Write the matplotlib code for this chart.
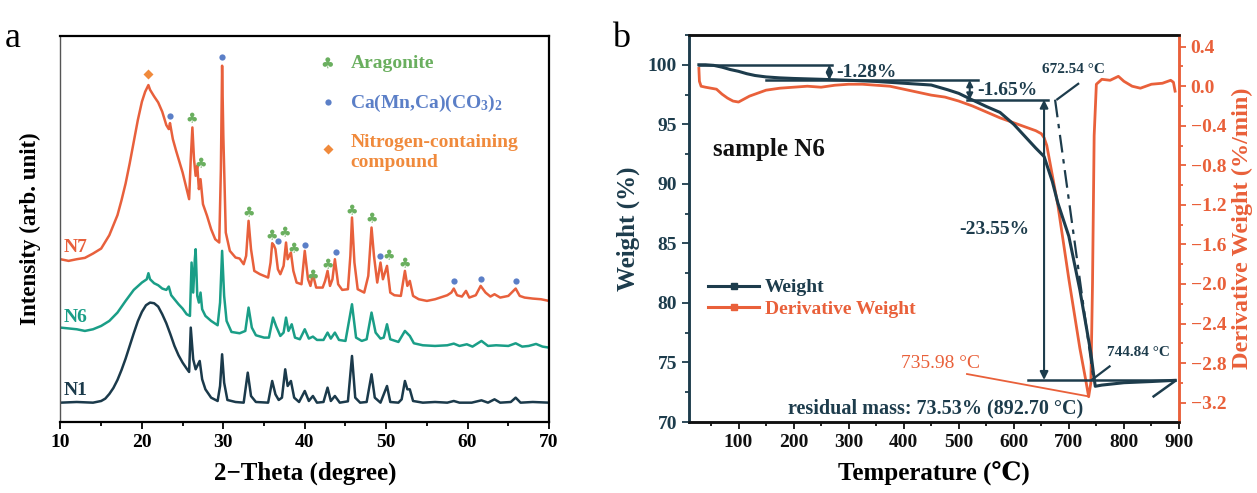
import matplotlib
matplotlib.use("Agg")
import matplotlib.pyplot as plt
from matplotlib.lines import Line2D
from matplotlib.ticker import MultipleLocator

plt.rcParams['font.family'] = ['Liberation Serif', 'DejaVu Serif', 'DejaVu Sans']
plt.rcParams['font.weight'] = 'bold'
plt.rcParams['axes.labelweight'] = 'bold'
plt.rcParams['mathtext.default'] = 'regular'

# ---------------- panel a: XRD (arbitrary units) ----------------
n1_x = [10, 12, 14, 15, 15.5, 16, 16.5, 17, 17.5, 18, 18.5, 19, 19.5, 20, 20.5, 21, 21.5, 22, 22.5, 23,
        23.5, 24, 24.5, 25, 25.5, 25.8, 26.0, 26.3, 26.6, 26.8, 27.1, 27.4, 27.8, 28.5, 29.3, 29.6, 29.85, 30.1, 30.5, 31.5,
        32.5, 33.0, 33.4, 34, 35.5, 36.0, 36.4, 36.8, 37.2, 37.6, 37.9, 38.3, 38.7, 39.3, 40.0, 40.5, 41.0, 41.5, 42.3, 42.8,
        43.2, 43.7, 44.3, 45.3, 45.8, 46.2, 46.8, 47.6, 48.2, 48.6, 49.3, 50.1, 50.5, 51.5, 51.9, 52.3, 52.6, 52.9, 53.3, 54.5,
        56, 57.5, 58.3, 59, 60.5, 61.7, 62.5, 63.3, 64, 65.3, 65.9, 66.5, 68, 70]
n1_y = [58, 60, 58, 63, 70, 84, 102, 126, 156, 190, 228, 266, 302, 330, 350, 358, 356, 346, 323, 296,
        263, 228, 200, 178, 160, 150, 283, 188, 158, 168, 183, 128, 98, 73, 63, 108, 203, 118, 66, 60,
        58, 148, 78, 60, 58, 123, 83, 66, 73, 158, 108, 123, 73, 60, 93, 63, 78, 58, 60, 103,
        63, 78, 58, 62, 198, 73, 58, 60, 143, 73, 58, 108, 60, 58, 68, 123, 98, 98, 63, 58,
        60, 58, 63, 58, 58, 65, 58, 68, 58, 60, 73, 58, 60, 58]

n6_x = [10, 12, 13, 14, 15, 16, 17, 18, 19, 20, 20.6, 20.8, 21.0, 21.5, 22.0, 22.5, 23.0, 23.3, 23.6, 24.0,
        24.5, 25.0, 25.5, 25.9, 26.1, 26.3, 26.5, 26.6, 26.8, 27.0, 27.2, 27.4, 27.8, 28.5, 29.3, 29.6, 29.85, 30.1, 30.4, 31.0,
        32.0, 32.7, 33.1, 33.5, 34.0, 35.0, 35.6, 36.1, 36.5, 37.0, 37.4, 37.7, 38.0, 38.4, 38.8, 39.4, 40.0, 40.5, 41.0, 41.5,
        42.3, 42.8, 43.2, 43.7, 44.2, 45.0, 45.8, 46.3, 47.0, 47.6, 48.2, 48.7, 49.3, 49.7, 50.1, 50.5, 51.5, 52.3, 52.9, 53.4,
        54.5, 56.0, 57.5, 58.3, 59.0, 59.9, 60.6, 61.7, 62.5, 63.5, 65.0, 65.9, 66.7, 67.5, 68.4, 69.2, 70]
n6_y = [283, 278, 273, 278, 288, 303, 328, 363, 396, 418, 428, 446, 428, 416, 410, 400, 396, 406, 380, 368,
        353, 340, 323, 318, 478, 388, 488, 518, 378, 358, 388, 338, 318, 303, 290, 358, 513, 378, 303, 270,
        266, 273, 343, 283, 260, 253, 253, 313, 286, 258, 268, 313, 273, 293, 253, 248, 278, 250, 256, 246,
        246, 268, 250, 268, 246, 243, 353, 253, 243, 248, 328, 268, 250, 253, 293, 248, 240, 273, 258, 236,
        230, 228, 230, 235, 228, 233, 226, 243, 228, 230, 228, 236, 226, 228, 234, 226, 223]

n7_x = [10, 11, 12, 13, 14, 15, 16, 17, 17.5, 18, 18.5, 19, 19.5, 20, 20.4, 20.8, 21.0, 21.5, 22.0, 22.5,
        23.0, 23.3, 23.45, 23.8, 24.2, 25.0, 25.5, 25.8, 26.0, 26.2, 26.4, 26.6, 26.8, 27.0, 27.2, 27.5, 28.0, 28.5, 29.0, 29.5,
        29.7, 29.85, 30.0, 30.3, 30.8, 31.5, 32.0, 32.5, 32.8, 33.1, 33.4, 33.8, 34.5, 35.5, 35.8, 36.0, 36.2, 36.4, 36.7, 37.0,
        37.4, 37.7, 37.9, 38.3, 38.6, 39.0, 39.6, 40.0, 40.4, 40.7, 41.0, 41.4, 42.2, 42.5, 42.8, 43.1, 43.4, 43.7, 44.1, 44.6,
        45.3, 45.6, 45.8, 46.1, 46.5, 47.3, 47.8, 48.2, 48.5, 48.9, 49.3, 49.6, 50.1, 50.5, 51.0, 51.8, 52.0, 52.3, 52.6, 52.9,
        53.3, 54.0, 55.0, 56.0, 57.0, 57.5, 58.0, 58.3, 58.7, 59.3, 59.8, 60.2, 61.0, 61.6, 62.2, 62.8, 63.3, 64.0, 65.0, 65.9,
        66.4, 67.0, 68.0, 69.0, 70.0]
n7_y = [488, 483, 488, 492, 505, 520, 560, 620, 665, 715, 775, 840, 905, 960, 990, 1010, 996, 976, 958, 930,
        890, 878, 896, 848, 813, 748, 698, 668, 788, 883, 788, 738, 768, 698, 728, 653, 618, 578, 548, 538,
        758, 1068, 858, 568, 513, 493, 490, 473, 498, 603, 518, 453, 443, 433, 478, 536, 530, 518, 458, 443,
        468, 538, 488, 508, 453, 418, 413, 513, 428, 408, 443, 403, 403, 423, 453, 408, 428, 488, 413, 396,
        398, 498, 613, 478, 398, 388, 438, 583, 498, 418, 478, 428, 468, 388, 380, 378, 408, 453, 408, 423,
        378, 368, 363, 368, 376, 380, 388, 400, 380, 376, 393, 373, 380, 408, 388, 376, 383, 373, 378, 400,
        378, 373, 370, 368, 363]

# phase markers on N7
arag_x = [26.1, 27.2, 33.1, 35.9, 37.6, 38.6, 41.0, 42.8, 45.8, 48.2, 50.3, 52.3]
arag_y = [908, 773, 626, 558, 566, 518, 436, 470, 633, 608, 496, 473]
dol_x = [23.4, 29.8, 36.7, 40.0, 43.8, 49.3, 58.3, 61.6, 65.9]
dol_y = [916, 1095, 543, 530, 510, 498, 423, 430, 423]
nit_x = [20.8]
nit_y = [1043]

xrd_ticks = [10, 20, 30, 40, 50, 60, 70]

C_N7 = '#E8603C'
C_N6 = '#1A9E87'
C_N1 = '#1B3A4B'
C_ARAG = '#6AAF5F'
C_DOL = '#5B7FC7'
C_NIT = '#F08A3C'

fig = plt.figure(figsize=(12.57, 4.93), dpi=100)
axa = fig.add_axes([0.0481, 0.144, 0.3887, 0.7836])

axa.plot(n1_x, n1_y, color=C_N1, lw=1.8)
axa.plot(n6_x, n6_y, color=C_N6, lw=1.8)
axa.plot(n7_x, n7_y, color=C_N7, lw=1.8)

for x, y in zip(arag_x, arag_y):
    axa.text(x, y, '\u2663', color=C_ARAG, fontsize=10, ha='center', va='center', family='DejaVu Sans')
axa.plot(dol_x, dol_y, 'o', color=C_DOL, ms=4.5, mec='none')
axa.plot(nit_x, nit_y, 'D', color=C_NIT, ms=5, mec='none')

axa.text(10.35, 523, 'N7', color=C_N7, fontsize=14, fontweight='bold', va='center')
axa.text(10.35, 313, 'N6', color=C_N6, fontsize=14, fontweight='bold', va='center')
axa.text(10.35, 93, 'N1', color=C_N1, fontsize=14, fontweight='bold', va='center')

# in-plot key
axa.text(42.8, 1075, '\u2663', color=C_ARAG, fontsize=11, ha='center', va='center', family='DejaVu Sans')
axa.text(45.6, 1075, 'Aragonite', color=C_ARAG, fontsize=14, fontweight='bold', va='center')
axa.plot([42.8], [958], 'o', color=C_DOL, ms=4.5, mec='none')
axa.text(45.6, 955, 'Ca(Mn,Ca)(CO$_3$)$_2$', color=C_DOL, fontsize=14, fontweight='bold', va='center')
axa.plot([42.8], [818], 'D', color=C_NIT, ms=5, mec='none')
axa.text(45.6, 808, 'Nitrogen-containing\ncompound', color=C_NIT, fontsize=14, fontweight='bold',
         va='center', linespacing=1.25)

axa.set_xlim(10, 70)
axa.set_ylim(0, 1158)
axa.set_yticks([])
axa.set_xticks(xrd_ticks, labels=[str(t) for t in xrd_ticks], fontweight='bold')
axa.xaxis.set_minor_locator(MultipleLocator(5))
axa.tick_params(axis='x', which='major', length=5, width=1.3, labelsize=14, direction='out')
axa.tick_params(axis='x', which='minor', length=3, width=1.3, direction='out')
axa.set_xlabel('2\u2212Theta (degree)', fontsize=18, fontweight='bold', labelpad=8)
axa.set_ylabel('Intensity (arb. unit)', fontsize=16.5, fontweight='bold', labelpad=14)
for s in ['top', 'right', 'bottom']:
    axa.spines[s].set_linewidth(1.6)
axa.spines['left'].set_linewidth(1.0)
axa.spines['left'].set_color('#555555')

fig.text(0.004, 0.905, 'a', fontsize=26, fontweight='normal')

# ---------------- panel b: TGA / DTG ----------------
wt_T = [28, 40, 55, 70, 85, 100, 115, 130, 150, 175, 200, 250, 300, 350, 400, 450, 480, 500, 520, 550,
        575, 600, 620, 640, 655, 670, 680, 700, 720, 740, 745, 748, 760, 800, 850, 893]
wt_W = [100.0, 100.0, 99.95, 99.8, 99.6, 99.45, 99.25, 99.1, 98.98, 98.9, 98.85, 98.78, 98.7, 98.6, 98.45, 98.3, 97.9, 97.6, 97.15, 96.5,
        96.0, 95.0, 94.0, 93.0, 92.3, 90.2, 88.4, 85.6, 81.1, 75.8, 74.0, 73.0, 73.1, 73.3, 73.4, 73.5]

dtg_T = [28, 29, 32, 40, 50, 60, 70, 80, 90, 100, 110, 120, 135, 150, 175, 200, 225, 250, 275, 300,
         325, 350, 375, 400, 425, 450, 475, 500, 525, 550, 575, 600, 620, 640, 650, 655, 660, 670, 680, 700,
         720, 730, 736, 740, 743, 746, 750, 760, 775, 790, 800, 815, 830, 850, 870, 885, 890, 893]
dtg_D = [0.18, 0.05, 0.0, -0.01, -0.02, -0.03, -0.08, -0.12, -0.15, -0.16, -0.13, -0.10, -0.07, -0.04, -0.02, -0.01, 0.0, -0.01, 0.01, 0.02,
         0.02, 0.01, 0.0, -0.03, -0.06, -0.09, -0.11, -0.15, -0.2, -0.26, -0.32, -0.37, -0.41, -0.45, -0.48, -0.52, -0.6, -0.9, -1.2, -1.95,
         -2.65, -2.95, -3.14, -3.0, -2.0, -0.5, 0.02, 0.07, 0.06, 0.1, 0.05, 0.0, -0.02, 0.02, 0.03, 0.06, 0.04, -0.05]

temp_ticks = [100, 200, 300, 400, 500, 600, 700, 800, 900]
wt_ticks = [70, 75, 80, 85, 90, 95, 100]
dtg_ticks = [0.4, 0.0, -0.4, -0.8, -1.2, -1.6, -2.0, -2.4, -2.8, -3.2]

C_W = '#1D3C4C'
C_D = '#E9603A'

axb = fig.add_axes([0.5481, 0.144, 0.3898, 0.785])
axd = axb.twinx()
axb.set_zorder(axd.get_zorder() + 1)
axb.patch.set_visible(False)

axd.plot(dtg_T, dtg_D, color=C_D, lw=2.0)
axb.plot(wt_T, wt_W, color=C_W, lw=2.2)

# step annotations (weight units)
axb.plot([28, 270], [100.0, 100.0], color=C_W, lw=1.8)
axb.plot([150, 535], [98.72, 98.72], color=C_W, lw=1.8)
axb.plot([515, 662], [97.07, 97.07], color=C_W, lw=1.8)
axb.plot([626, 893], [73.53, 73.53], color=C_W, lw=1.8)
arw = dict(arrowstyle='<|-|>', color=C_W, lw=1.5, mutation_scale=9, shrinkA=0, shrinkB=0)
axb.annotate('', xy=(265, 100.0), xytext=(265, 98.72), arrowprops=arw)
axb.annotate('', xy=(520, 98.72), xytext=(520, 97.07), arrowprops=arw)
axb.annotate('', xy=(655, 97.07), xytext=(655, 73.53), arrowprops=dict(arw, mutation_scale=12))
axb.plot([675, 745], [97.07, 73.53], color=C_W, lw=1.6, ls=(0, (8, 3, 2, 3)))
axb.plot([679, 717], [97.1, 98.4], color=C_W, lw=1.6)
axb.plot([742, 774], [73.55, 74.67], color=C_W, lw=1.6)
axb.plot([854, 892], [72.15, 73.41], color=C_W, lw=1.8)
axb.plot([515, 736], [74.03, 72.15], color=C_D, lw=1.3)

axb.text(278, 99.38, '-1.28%', color=C_W, fontsize=14, fontweight='bold', va='center')
axb.text(533, 97.85, '-1.65%', color=C_W, fontsize=14, fontweight='bold', va='center')
axb.text(708, 99.6, '672.54 \u00b0C', color=C_W, fontsize=11, fontweight='bold', ha='center', va='center')
axb.text(565, 86.15, '-23.55%', color=C_W, fontsize=14, fontweight='bold', ha='center', va='center')
axb.text(826, 75.8, '744.84 \u00b0C', color=C_W, fontsize=11, fontweight='bold', ha='center', va='center')
axb.text(466, 74.95, '735.98 \u00b0C', color=C_D, fontsize=14, fontweight='normal', ha='center', va='center')
axb.text(458, 71.17, 'residual mass: 73.53% (892.70 \u00b0C)', color=C_W, fontsize=14.5, fontweight='bold',
         ha='center', va='center')
axb.text(54, 92.86, 'sample N6', color='#111111', fontsize=18, fontweight='bold', va='center')

handles = [Line2D([], [], color=C_W, lw=2.2, marker='s', ms=5),
           Line2D([], [], color=C_D, lw=2.2, marker='s', ms=5)]
leg = axb.legend(handles, ['Weight', 'Derivative Weight'], loc='upper left', bbox_to_anchor=(0.012, 0.405),
                 frameon=False, prop={'size': 14, 'weight': 'bold'}, handlelength=2.6, handletextpad=0.3,
                 labelspacing=0.2, borderpad=0.2)
for t, c in zip(leg.get_texts(), [C_W, C_D]):
    t.set_color(c)

axb.set_xlim(10, 900)
axb.set_ylim(70, 102.5)
axd.set_ylim(-3.396, 0.518)
axb.set_xticks(temp_ticks, labels=[str(t) for t in temp_ticks], fontweight='bold')
axb.set_yticks(wt_ticks, labels=[str(t) for t in wt_ticks], fontweight='bold')
axd.set_yticks(dtg_ticks, labels=['%.1f' % t if t >= 0 else '\u2212%.1f' % -t for t in dtg_ticks],
               fontweight='bold')
axb.xaxis.set_minor_locator(MultipleLocator(50))
axb.yaxis.set_minor_locator(MultipleLocator(2.5))
axd.yaxis.set_minor_locator(MultipleLocator(0.2))

axb.tick_params(axis='x', which='major', length=5, width=1.3, labelsize=14, colors='#111111')
axb.tick_params(axis='x', which='minor', length=3, width=1.3, colors='#111111')
axb.tick_params(axis='y', which='major', length=5, width=1.3, labelsize=14, colors=C_W)
axb.tick_params(axis='y', which='minor', length=3, width=1.3, colors=C_W)
axd.tick_params(axis='y', which='major', length=5, width=1.3, labelsize=14, colors=C_D)
axd.tick_params(axis='y', which='minor', length=3, width=1.3, colors=C_D)

axb.set_xlabel('Temperature (\u2103)', fontsize=18, fontweight='bold', labelpad=8)
axb.set_ylabel('Weight (%)', fontsize=18, fontweight='bold', color=C_W, labelpad=6)
axd.set_ylabel('Derivative Weight (%/min)', fontsize=17.5, fontweight='bold', color=C_D, labelpad=4)

for ax in (axb, axd):
    ax.spines['top'].set_color('#111111')
    ax.spines['bottom'].set_color('#111111')
    ax.spines['left'].set_color(C_W)
    ax.spines['right'].set_color(C_D)
    for s in ax.spines.values():
        s.set_linewidth(1.8)

fig.text(0.487, 0.905, 'b', fontsize=26, fontweight='normal')

fig.savefig('out.png', dpi=100)
